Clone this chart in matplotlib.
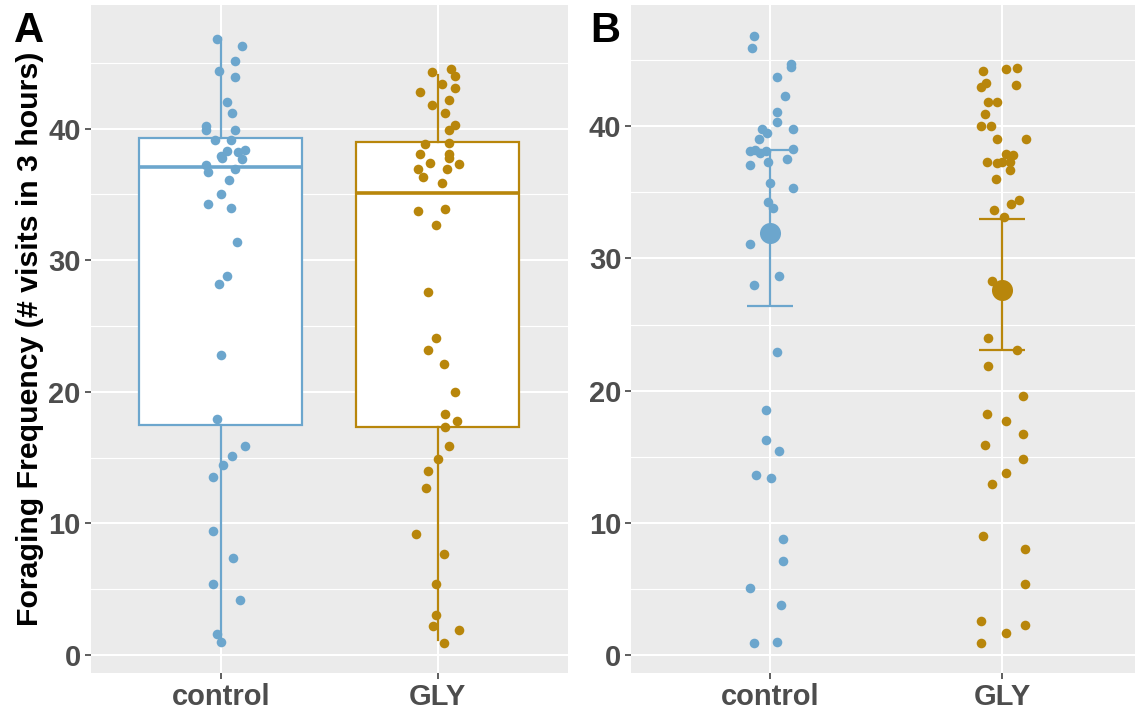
import matplotlib.pyplot as plt

plt.rcParams['font.family'] = ['Liberation Sans', 'DejaVu Sans']
plt.rcParams['font.weight'] = 'bold'

groups = ['control', 'GLY']
colors = ['#6CA6CD', '#B8860B']

# --- panel A: jittered visits over a box summary ---
a_ctrl = [46.8, 46.3, 45.1, 44.4, 43.9, 42.0, 41.2, 40.2, 39.9, 39.9,
          39.1, 39.1, 38.4, 38.3, 37.9, 38.2, 37.8, 37.7, 37.2, 36.7,
          36.9, 36.1, 35.0, 34.3, 34.0, 31.4, 28.8, 28.2, 22.8, 17.9,
          15.9, 15.1, 14.4, 13.5, 9.4, 7.4, 5.4, 4.15, 1.6, 1.0]
a_ctrl_jit = [-0.015, 0.10, 0.065, -0.006, 0.065, 0.03, 0.054, -0.07, -0.07, 0.065,
              -0.026, 0.047, 0.11, 0.03, 0.0, 0.078, 0.008, 0.098, -0.07, -0.057,
              0.065, 0.039, 0.003, -0.059, 0.047, 0.074, 0.03, -0.006, 0.003, -0.015,
              0.11, 0.05, 0.01, -0.034, -0.034, 0.056, -0.034, 0.09, -0.015, 0.003]

a_gly = [44.3, 44.5, 44.0, 43.4, 42.8, 43.1, 42.2, 41.8, 41.2, 40.3,
         39.9, 38.9, 38.8, 38.1, 38.1, 37.4, 37.3, 37.8, 36.9, 36.9,
         36.3, 35.9, 33.7, 33.9, 32.7, 27.6, 24.1, 23.2, 22.1, 20.0,
         18.3, 17.8, 17.3, 15.9, 14.9, 14.0, 12.7, 9.2, 7.7, 5.4,
         3.0, 2.2, 1.9, 0.9]
a_gly_jit = [-0.027, 0.063, 0.081, 0.02, -0.081, 0.081, 0.053, -0.027, 0.035, 0.081,
             0.053, 0.053, -0.061, -0.081, 0.053, -0.035, 0.097, 0.053, -0.089, 0.043,
             -0.068, 0.02, -0.089, 0.035, -0.008, -0.046, -0.008, -0.046, 0.027, 0.081,
             0.035, 0.089, 0.035, 0.053, 0.0, -0.046, -0.055, -0.1, 0.027, -0.008,
             -0.008, -0.02, 0.1, 0.027]

box_med = [37.1, 35.1]
box_q1 = [17.5, 17.35]
box_q3 = [39.25, 38.95]
box_lo = [1.1, 1.1]
box_hi = [46.85, 44.1]

# --- panel B: jittered visits with mean and error bars ---
b_ctrl = [46.8, 45.9, 44.7, 44.45, 43.7, 42.3, 41.1, 40.3, 39.8, 39.8,
          39.5, 39.0, 38.1, 38.2, 37.95, 38.1, 38.3, 37.3, 37.5, 37.1,
          35.7, 35.3, 34.3, 33.8, 31.1, 28.7, 28.0, 22.9, 18.5, 16.3,
          15.4, 13.6, 13.4, 8.8, 7.1, 5.1, 3.75, 0.9, 1.0]
b_ctrl_jit = [-0.068, -0.076, 0.089, 0.089, 0.031, 0.066, 0.031, 0.031, -0.033, 0.098,
              -0.014, -0.05, -0.086, -0.065, -0.043, -0.017, 0.098, -0.007, 0.072, -0.086,
              0.0, 0.098, -0.01, 0.014, -0.086, 0.04, -0.068, 0.031, -0.017, -0.017,
              0.04, -0.059, 0.006, 0.057, 0.057, -0.085, 0.047, -0.068, 0.031]

b_gly = [44.2, 44.3, 44.4, 43.3, 43.0, 43.1, 41.8, 41.8, 40.9, 40.0,
         40.0, 39.0, 39.0, 37.3, 37.2, 37.9, 37.8, 37.3, 36.7, 37.3,
         36.0, 34.1, 34.4, 33.7, 33.1, 28.3, 27.5, 24.0, 23.1, 21.9,
         19.6, 18.2, 17.7, 16.7, 15.9, 14.8, 13.8, 12.9, 9.0, 8.0,
         5.35, 2.6, 2.3, 1.7, 0.9]
b_gly_jit = [-0.083, 0.016, 0.066, -0.069, -0.092, 0.06, -0.059, -0.023, -0.073, -0.092,
             -0.049, -0.023, 0.106, -0.066, -0.023, 0.017, 0.049, 0.035, 0.035, 0.0,
             -0.027, 0.04, 0.075, -0.033, 0.009, -0.044, 0.02, -0.059, 0.066, -0.059,
             0.09, -0.066, 0.017, 0.09, -0.073, 0.09, 0.017, -0.042, -0.083, 0.1,
             0.1, -0.092, 0.1, 0.017, -0.092]

b_mean = [31.9, 27.6]
b_lower = [26.4, 23.1]
b_upper = [38.2, 33.0]

W, H = 1135, 715
fig = plt.figure(figsize=(W / 100, H / 100), dpi=100)


def panel(x0, x1, y0, y1):
    return fig.add_axes([x0 / W, 1 - y1 / H, (x1 - x0) / W, (y1 - y0) / H])


def style(ax, ylim):
    ax.set_facecolor('#EBEBEB')
    for s in ax.spines.values():
        s.set_visible(False)
    ax.set_xlim(0.4, 2.6)
    ax.set_ylim(*ylim)
    ax.set_xticks([1, 2])
    ax.set_xticklabels(groups)
    ax.set_yticks([0, 10, 20, 30, 40])
    ax.set_yticks([5, 15, 25, 35, 45], minor=True)
    ax.set_axisbelow(True)
    ax.grid(which='major', color='white', lw=1.5)
    ax.grid(which='minor', axis='y', color='white', lw=0.8)
    ax.tick_params(which='major', length=4, width=1.1, color='#333333',
                   labelsize=21, labelcolor='#4D4D4D', pad=3)
    ax.tick_params(which='minor', length=0)
    for lab in ax.get_xticklabels() + ax.get_yticklabels():
        lab.set_fontweight('bold')


axA = panel(90.5, 568, 5, 673)
style(axA, (-1.37, 49.39))

stats = []
for i, g in enumerate(groups):
    stats.append(dict(med=box_med[i], q1=box_q1[i], q3=box_q3[i],
                      whislo=box_lo[i], whishi=box_hi[i], fliers=[], label=g))
for i, st in enumerate(stats):
    axA.bxp([st], positions=[i + 1], widths=0.75, showcaps=False,
            patch_artist=True, manage_ticks=False,
            boxprops=dict(facecolor='white', edgecolor=colors[i], lw=1.6),
            medianprops=dict(color=colors[i], lw=2.6),
            whiskerprops=dict(color=colors[i], lw=1.6), zorder=2)

for i, (y, jit) in enumerate([(a_ctrl, a_ctrl_jit), (a_gly, a_gly_jit)]):
    xs = [i + 1 + d for d in jit]
    axA.scatter(xs, y, s=48, color=colors[i], lw=0, zorder=3)

axB = panel(631, 1141, 5, 673)
style(axB, (-1.36, 49.17))

for i, (y, jit) in enumerate([(b_ctrl, b_ctrl_jit), (b_gly, b_gly_jit)]):
    xs = [i + 1 + d for d in jit]
    axB.scatter(xs, y, s=48, color=colors[i], lw=0, zorder=3)
    axB.vlines(i + 1, b_lower[i], b_upper[i], color=colors[i], lw=1.6, zorder=3)
    axB.hlines([b_lower[i], b_upper[i]], i + 1 - 0.1, i + 1 + 0.1,
               color=colors[i], lw=1.6, zorder=3)
    axB.scatter([i + 1], [b_mean[i]], s=230, color=colors[i], lw=0, zorder=4)

fig.text(30 / W, 1 - 339 / H, 'Foraging Frequency (# visits in 3 hours)',
         rotation=90, ha='center', va='center', fontsize=21.8,
         fontweight='bold', color='black')
fig.text(29 / W, 1 - 31 / H, 'A', ha='center', va='center', fontsize=30,
         fontweight='bold', color='black')
fig.text(605 / W, 1 - 31 / H, 'B', ha='center', va='center', fontsize=30,
         fontweight='bold', color='black')

fig.savefig('out.png', dpi=100)
